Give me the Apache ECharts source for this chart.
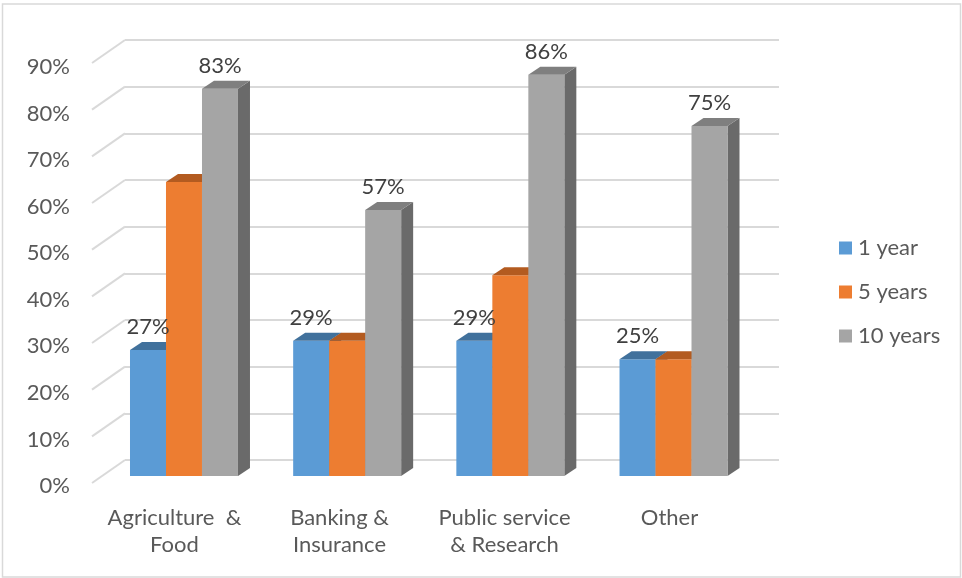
<!DOCTYPE html>
<html>
<head>
<meta charset="utf-8">
<script src="https://cdn.jsdelivr.net/npm/echarts@6/dist/echarts.min.js"></script>
<style>
  html, body { margin: 0; padding: 0; background: #ffffff; }
  #chart { width: 962px; height: 578px; }
</style>
</head>
<body>
<div id="chart"></div>
<script>
// Share of respondents by sector and time horizon
const categories = ['Agriculture  &\nFood', 'Banking &\nInsurance', 'Public service\n& Research', 'Other'];
const seriesNames = ['1 year', '5 years', '10 years'];
const oneYear = [27, 29, 29, 25];
const fiveYears = [63, 29, 43, 25];
const tenYears = [83, 57, 86, 75];
const yTicks = [0, 10, 20, 30, 40, 50, 60, 70, 80, 90];
// which series carry value labels
const labelled = [true, false, true];

const seriesValues = [oneYear, fiveYears, tenYears];

// face colours: front, top, side
const palette = [
  { front: '#5B9BD5', top: '#41719C', side: '#3A6690' },
  { front: '#ED7D31', top: '#B35B20', side: '#A0511C' },
  { front: '#A5A5A5', top: '#7F7F7F', side: '#6A6A6A' }
];

// extrusion of each column (depth look)
const DX = 12, DY = 8;
// offset between front edge of the floor and the back wall
const WALL_DX = 33, WALL_DY = 23;
const BAR_FRAC = 36 / 163.2;
const FONT = 'Lato, "Open Sans", sans-serif';

function barRender(idx) {
  const c = palette[idx];
  return function (params, api) {
    const cat = api.value(0);
    const v = api.value(1);
    const base = api.coord([cat, 0]);
    const top = api.coord([cat, v]);
    const band = api.size([1, 0])[0];
    const w = band * BAR_FRAC;
    const x0 = base[0] - 1.5 * w + idx * w;
    const x1 = x0 + w;
    const yt = top[1], yb = base[1];
    return {
      type: 'group',
      children: [
        {
          type: 'polygon',
          shape: { points: [[x1, yt], [x1 + DX, yt - DY], [x1 + DX, yb - DY], [x1, yb]] },
          style: { fill: c.side }
        },
        {
          type: 'rect',
          shape: { x: x0, y: yt, width: w, height: yb - yt },
          style: { fill: c.front }
        },
        {
          type: 'polygon',
          shape: { points: [[x0, yt], [x0 + DX, yt - DY], [x1 + DX, yt - DY], [x1, yt]] },
          style: { fill: c.top }
        }
      ]
    };
  };
}

function labelRender(params, api) {
  const cat = api.value(0);
  const v = api.value(1);
  const idx = api.value(2);
  const base = api.coord([cat, 0]);
  const top = api.coord([cat, v]);
  const w = api.size([1, 0])[0] * BAR_FRAC;
  const cx = base[0] - 1.5 * w + idx * w + w / 2;
  return {
    type: 'text',
    style: {
      text: v + '%',
      x: cx,
      y: top[1] - 23,
      align: 'center',
      verticalAlign: 'middle',
      fill: '#404040',
      font: '22px ' + FONT
    }
  };
}

function wallRender(params, api) {
  const v = api.value(0);
  const p = api.coord([0, v]);
  return {
    type: 'line',
    shape: { x1: p[0] - WALL_DX, y1: p[1] + WALL_DY, x2: p[0], y2: p[1] },
    style: { stroke: '#D9D9D9', lineWidth: 2 }
  };
}

const barSeries = seriesValues.map((vals, i) => ({
  name: seriesNames[i],
  type: 'custom',
  xAxisIndex: 1,
  yAxisIndex: 1,
  itemStyle: { color: palette[i].front },
  renderItem: barRender(i),
  encode: { x: 0, y: 1 },
  data: vals.map((v, k) => [k, v]),
  z: 3 + i
}));

const labelData = [];
seriesValues.forEach((vals, i) => {
  if (labelled[i]) vals.forEach((v, k) => labelData.push([k, v, i]));
});

const chart = echarts.init(document.getElementById('chart'), null, { renderer: 'canvas' });

chart.setOption({
  animation: false,
  backgroundColor: '#ffffff',
  textStyle: { fontFamily: FONT },
  graphic: [{
    type: 'rect',
    shape: { x: 2.5, y: 4, width: 958, height: 573 },
    style: { fill: 'none', stroke: '#D9D9D9', lineWidth: 1.5 },
    silent: true
  }],
  legend: {
    data: seriesNames,
    orient: 'vertical',
    left: 834,
    top: 232,
    itemWidth: 13,
    itemHeight: 13,
    itemGap: 22,
    icon: 'rect',
    textStyle: { fontFamily: FONT, fontSize: 22, color: '#595959', padding: [0, 0, 0, 1] }
  },
  grid: [
    // front edge of the floor: axis labels
    { left: 92, right: 210, top: 67, bottom: 92 },
    // column plane
    { left: 102.4, right: 206.9, top: 56, bottom: 102 },
    // back wall
    { left: 125, right: 183, top: 40, bottom: 118 }
  ],
  xAxis: [
    {
      gridIndex: 0, type: 'category', data: categories,
      axisLine: { show: false }, axisTick: { show: false },
      axisLabel: { interval: 0, color: '#595959', fontSize: 22, fontFamily: FONT, lineHeight: 27, margin: 18 }
    },
    { gridIndex: 1, type: 'category', data: categories, show: false },
    { gridIndex: 2, type: 'value', min: 0, max: 1, show: false }
  ],
  yAxis: [
    {
      gridIndex: 0, type: 'value', min: 0, max: 90, interval: 10,
      axisLine: { show: false }, axisTick: { show: false }, splitLine: { show: false },
      axisLabel: { formatter: '{value}%', color: '#595959', fontSize: 22, fontFamily: FONT, margin: 22 }
    },
    { gridIndex: 1, type: 'value', min: 0, max: 90, interval: 10, show: false },
    {
      gridIndex: 2, type: 'value', min: 0, max: 90, interval: 10,
      axisLine: { show: false }, axisTick: { show: false }, axisLabel: { show: false },
      splitLine: { show: true, lineStyle: { color: '#D9D9D9', width: 2 } }
    }
  ],
  series: [
    {
      name: 'wall',
      type: 'custom',
      xAxisIndex: 2,
      yAxisIndex: 2,
      renderItem: wallRender,
      encode: { y: 0 },
      data: yTicks.map(t => [t]),
      silent: true,
      z: 1
    },
    ...barSeries,
    {
      name: 'values',
      type: 'custom',
      xAxisIndex: 1,
      yAxisIndex: 1,
      renderItem: labelRender,
      encode: { x: 0, y: 1 },
      data: labelData,
      silent: true,
      z: 10
    }
  ]
});
</script>
</body>
</html>
